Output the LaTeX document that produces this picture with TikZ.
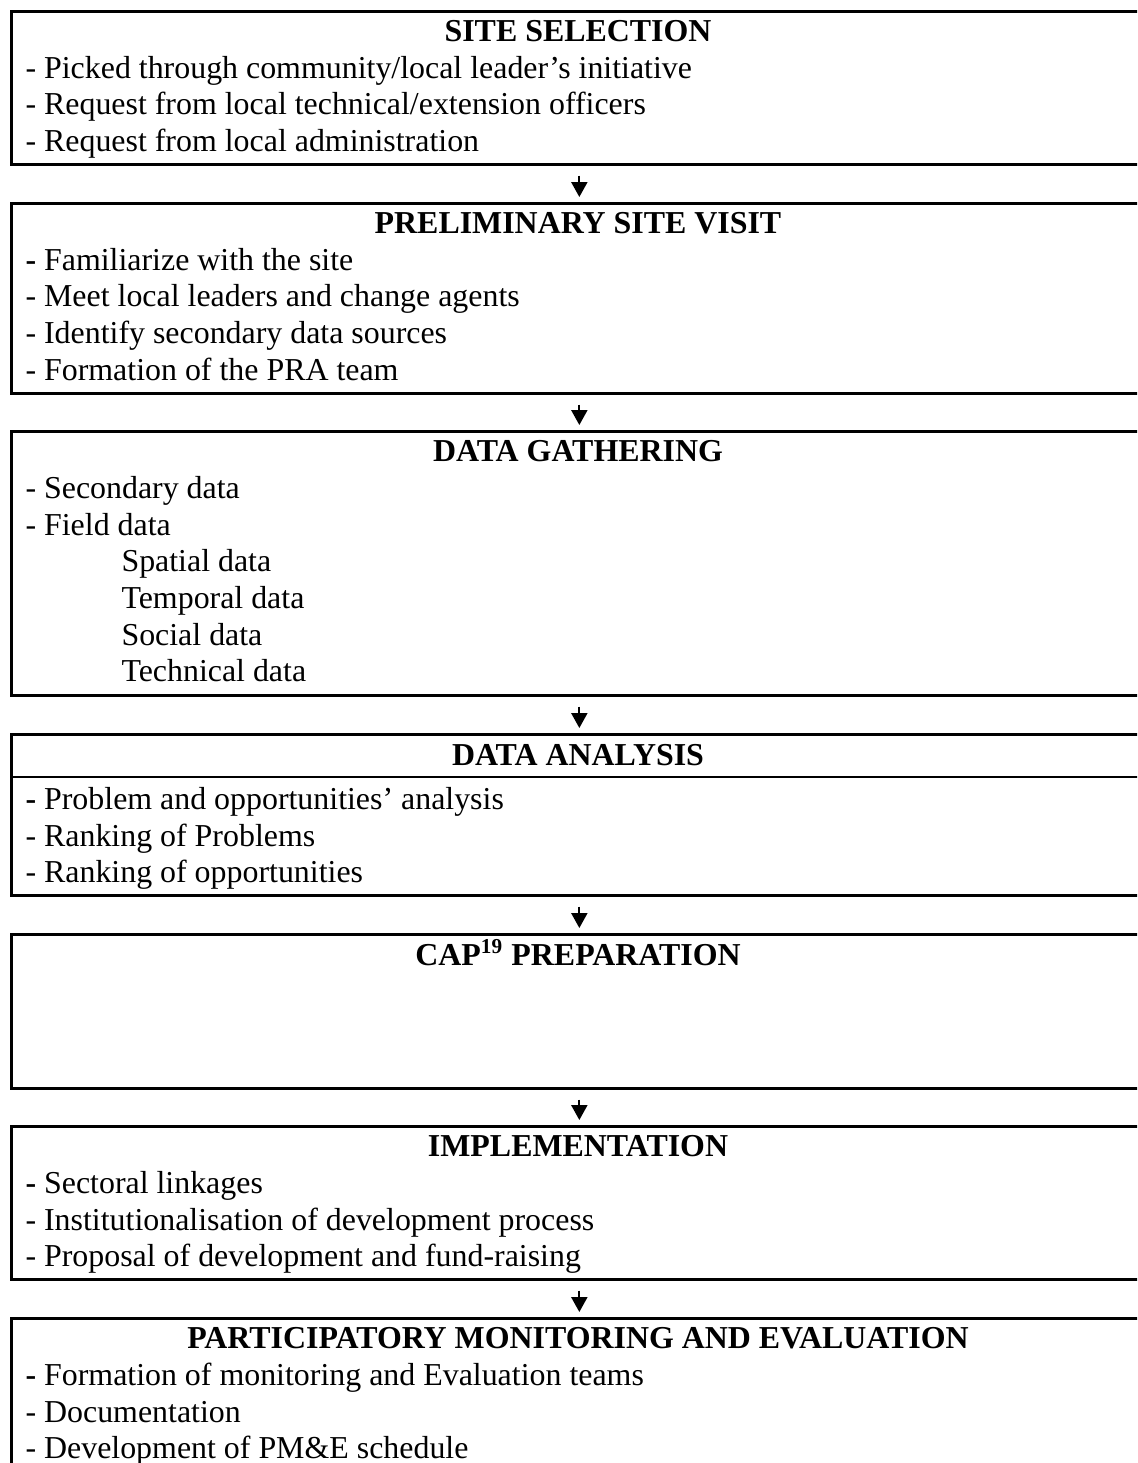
\documentclass[tikz,border=0pt]{standalone}
\usepackage{fontspec}
\setmainfont{Liberation Serif}
\usetikzlibrary{arrows.meta}
\begin{document}
\begin{tikzpicture}[x=0.3762pt,y=-0.3762pt,
  box/.style={draw=black,line width=1pt,inner sep=0pt,anchor=north west,minimum width=1136*0.3762pt},
  heading/.style={anchor=base,inner sep=0pt,font=\fontsize{12}{13.8}\selectfont\bfseries},
  item/.style={anchor=base west,inner sep=0pt,font=\fontsize{12}{13.8}\selectfont},
  arr/.style={line width=0.75pt,-{Triangle[length=5.6pt,width=6pt]}}]
\useasboundingbox (0,0) rectangle (1137,1463);
\clip (0,0) rectangle (1137,1463);
% boxes
\node[box,minimum height=153*0.3762pt] (b1) at (10,10) {};
\node[box,minimum height=190*0.3762pt] (b2) at (10,202) {};
\node[box,minimum height=264*0.3762pt] (b3) at (10,430) {};
\node[box,minimum height=161*0.3762pt] (b4) at (10,733) {};
\node[box,minimum height=154*0.3762pt] (b5) at (10,933) {};
\node[box,minimum height=153*0.3762pt] (b6) at (10,1125) {};
\node[box,minimum height=153*0.3762pt] (b7) at (10,1317) {};
\coordinate (d4) at (0,777);
\draw[line width=1pt] (b4.west |- d4) -- (b4.east |- d4);
% arrows
\draw[arr] ([yshift=-10*0.3762pt]b1.south) -- ([yshift=5*0.3762pt]b2.north);
\draw[arr] ([yshift=-10*0.3762pt]b2.south) -- ([yshift=5*0.3762pt]b3.north);
\draw[arr] ([yshift=-10*0.3762pt]b3.south) -- ([yshift=5*0.3762pt]b4.north);
\draw[arr] ([yshift=-10*0.3762pt]b4.south) -- ([yshift=5*0.3762pt]b5.north);
\draw[arr] ([yshift=-10*0.3762pt]b5.south) -- ([yshift=5*0.3762pt]b6.north);
\draw[arr] ([yshift=-10*0.3762pt]b6.south) -- ([yshift=5*0.3762pt]b7.north);
% box 1
\node[heading] (h1) at (578,41.7) {SITE SELECTION};
\node[item] (t11) at (25,78.3) {- Picked through community/local leader’s initiative};
\node[item] (t12) at (25,115) {- Request from local technical/extension officers};
\node[item] (t13) at (25,151.7) {- Request from local administration};
% box 2
\node[heading] (h2) at (578,233.7) {PRELIMINARY SITE VISIT};
\node[item] (t21) at (25,270.3) {\textbf{-} Familiarize with the site};
\node[item] (t22) at (25,307) {- Meet local leaders and change agents};
\node[item] (t23) at (25,343.7) {- Identify secondary data sources};
\node[item] (t24) at (25,380.4) {- Formation of the PRA team};
% box 3
\node[heading] (h3) at (578,461.7) {DATA GATHERING};
\node[item] (t31) at (25,498.3) {- Secondary data};
\node[item] (t32) at (25,535) {- Field data};
\node[item] (t33) at (121,571.7) {Spatial data};
\node[item] (t34) at (121,608.4) {Temporal data};
\node[item] (t35) at (121,645.1) {Social data};
\node[item] (t36) at (121,681.8) {Technical data};
% box 4
\node[heading] (h4) at (578,765) {DATA ANALYSIS};
\node[item] (t41) at (25,809.3) {\textbf{-} Problem and opportunities’ analysis};
\node[item] (t42) at (25,846) {- Ranking of Problems};
\node[item] (t43) at (25,882.7) {- Ranking of opportunities};
% box 5
\node[heading] (h5) at (578,965) {CAP\textsuperscript{19} PREPARATION};
% box 6
\node[heading] (h6) at (578,1156.7) {IMPLEMENTATION};
\node[item] (t61) at (25,1193.3) {\textbf{-} Sectoral linkages};
\node[item] (t62) at (25,1230) {- Institutionalisation of development process};
\node[item] (t63) at (25,1266.7) {- Proposal of development and fund-raising};
% box 7
\node[heading] (h7) at (578,1348.7) {PARTICIPATORY MONITORING AND EVALUATION};
\node[item] (t71) at (25,1385.3) {\textbf{-} Formation of monitoring and Evaluation teams};
\node[item] (t72) at (25,1422) {- Documentation};
\node[item] (t73) at (25,1458.7) {- Development of PM\&E schedule};
\end{tikzpicture}
\end{document}
